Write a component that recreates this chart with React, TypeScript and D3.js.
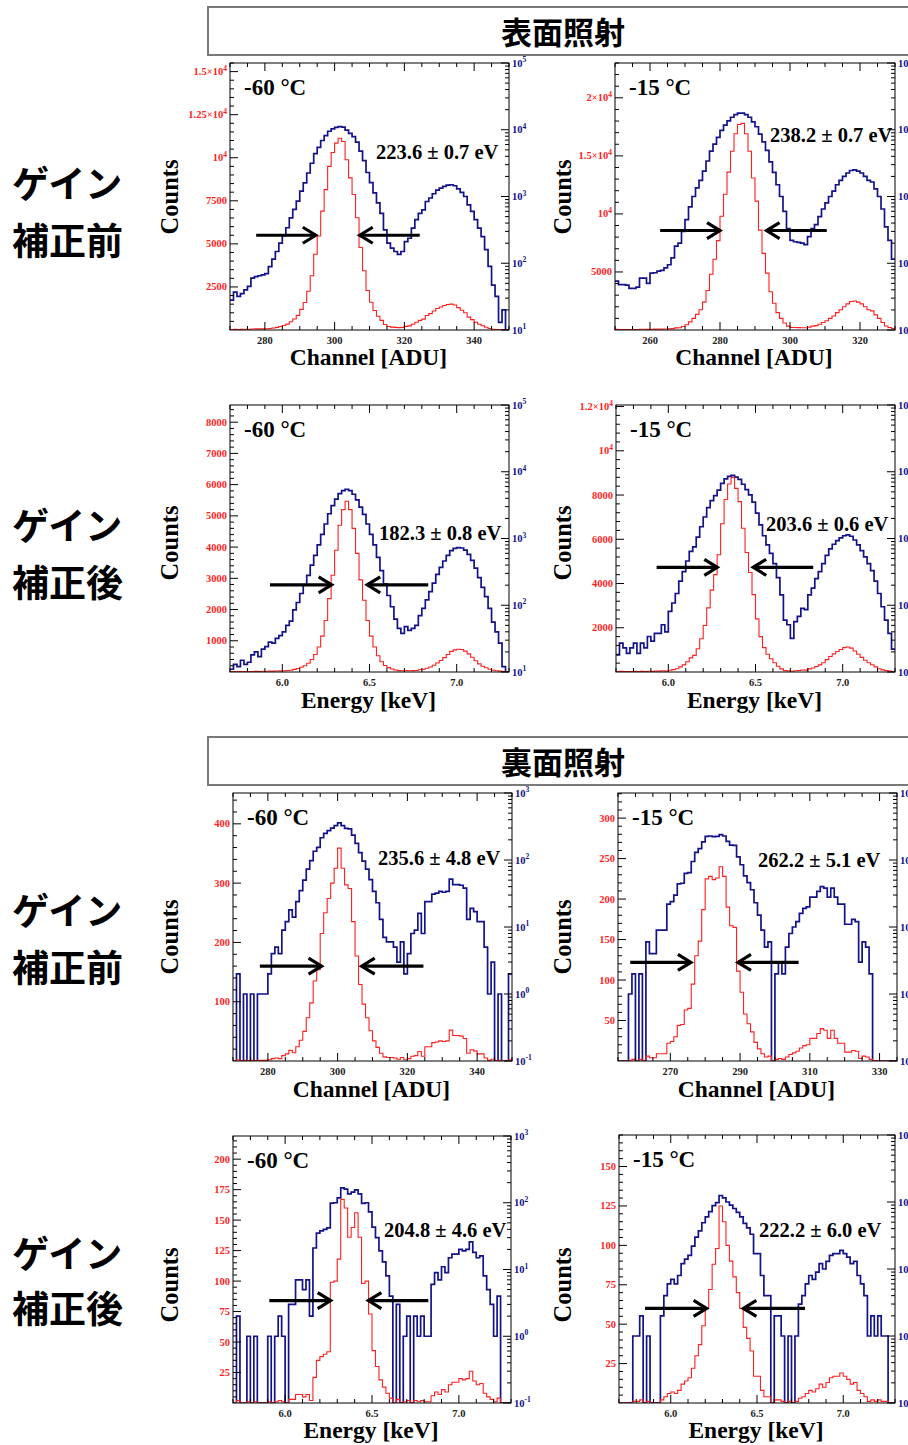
import React from 'react';
import * as d3 from 'd3';

// ---------------- DATA (counts per bin) ----------------
// Front side, before gain correction, -60 C : channel bins 270..349 (1 ADU)
const frontRawCold = [28,37,32,35,40,45,60,63,65,67,70,89,115,150,200,260,340,480,640,850,1200,1600,2250,3150,4400,5460,6900,8150,9500,10300,10850,11130,10940,9880,8830,7870,6520,4790,3440,2290,1615,1130,800,560,316,200,168,150,136,150,211,237,335,450,560,631,841,950,1100,1250,1334,1420,1480,1500,1450,1300,1150,1000,750,600,450,335,251,160,90,47,32,13,20,0];
// Front side, before gain correction, -15 C : channel bins 250..329
const frontRawWarm = [54,48,48,47,42,42,44,60,60,50,71,72,76,78,85,95,120,180,200,300,450,700,1000,1350,1750,2400,3400,4800,6100,7700,9800,11700,13600,15400,16900,17700,17800,16900,15400,13100,11100,8600,6600,4900,3300,2300,1500,1000,600,330,220,210,205,200,190,250,330,380,500,650,800,1000,1200,1500,1750,2000,2250,2450,2500,2400,2250,2000,1750,1650,1300,1000,650,350,220,115];
// Front side, after gain correction, -60 C : energy bins 5.70..7.28 keV (0.02 keV)
const frontCorCold = [11,13,12,15,13,14,18,20,17,22,24,28,27,32,35,40,50,58,85,110,150,200,280,400,560,800,1150,1650,2350,3100,3900,4700,5200,5470,5200,4600,3800,2950,2300,1650,1150,800,520,330,210,140,95,62,45,38,48,42,45,50,70,90,120,160,215,290,370,460,560,660,710,730,720,670,580,470,360,260,185,135,90,56,40,27,12,0];
// Front side, after gain correction, -15 C
const frontCorWarm = [18,27,23,19,23,27,19,27,23,34,29,38,38,51,40,81,108,150,230,320,460,640,750,1050,1500,2100,2900,3700,4400,5300,6700,7800,8500,8800,8300,7700,6500,5400,4500,3500,2400,1600,1100,800,600,420,260,143,60,51,32,57,68,90,86,143,181,250,320,420,560,700,820,930,1020,1100,1130,1080,950,800,660,530,420,330,230,150,95,60,38,22];
// Back side, before gain correction, -60 C : channel bins 270..349
const backRawCold = [0,2,0,1,0,1,0,1,1,1,2,4,5,4,9,12,18,14,24,35,50,73,98,135,154,215,250,274,300,325,359,325,297,291,235,177,129,96,73,51,34,23,13,7,6,6,5,3,6,2,4,8,9,16,8,24,24,31,32,34,33,34,52,43,43,42,38,13,19,17,12,12,5,1,3,0,1,0,0,2];
// Back side, before gain correction, -15 C : channel bins 255..334
const backRawWarm = [0,0,0,1,2,0,2,0,6,4,4,9,9,9,22,24,30,44,45,63,65,95,130,148,187,225,228,224,226,240,228,190,167,165,111,85,58,46,36,23,15,9,5,6,0,2,3,2,5,8,10,12,16,19,20,28,28,34,40,38,28,38,28,22,22,11,11,13,12,3,6,5,2,0,0,0,0,0,0,0];
// Back side, after gain correction, -60 C : energy bins 5.70..7.28 keV
const backCorCold = [0,2,0,0,1,0,1,0,0,0,1,0,1,2,1,0,3,3,7,7,5,7,2,21,35,38,40,42,99,100,118,167,160,136,144,156,136,98,100,73,43,30,19,13,8,4,0,3,0,1,2,0,2,1,2,1,1,6,9,7,11,9,15,17,17,20,19,20,26,18,15,16,8,5,3,1,4,0,0,0];
// Back side, after gain correction, -15 C
const backCorWarm = [0,0,0,0,1,1,2,0,1,0,0,0,2,4,6,7,6,8,12,14,16,22,30,37,49,60,72,88,98,125,115,100,90,80,70,60,48,41,33,17,17,8,4,4,0,2,2,1,0,1,0,1,3,4,6,8,7,9,12,10,13,16,17,17,19,17,15,12,13,8,6,4,1,2,1,2,1,1,0,0];

const temps = ['-60 °C', '-15 °C', '-60 °C', '-15 °C', '-60 °C', '-15 °C', '-60 °C', '-15 °C'];
const fwhmTexts = ['223.6 ± 0.7 eV', '238.2 ± 0.7 eV', '182.3 ± 0.8 eV', '203.6 ± 0.6 eV', '235.6 ± 4.8 eV', '262.2 ± 5.1 eV', '204.8 ± 4.6 eV', '222.2 ± 6.0 eV'];
// FWHM arrows: [half-max level, left tail, left tip, right tip, right tail] (data units)
const arrowsData = [
  [5500, 277.5, 294.6, 307.2, 324.4],
  [8570, 262.9, 280, 293.3, 310.5],
  [2790, 5.929, 6.283, 6.487, 6.837],
  [4730, 5.933, 6.281, 6.487, 6.831],
  [160, 277.7, 295.4, 306.9, 324.6],
  [121.7, 258.5, 275.9, 289.4, 306.8],
  [84, 5.909, 6.262, 6.479, 6.824],
  [60, 5.851, 6.208, 6.421, 6.778],
];
const headers = ['表面照射', '裏面照射'];
const rowLabels = [['ゲイン', '補正前'], ['ゲイン', '補正後'], ['ゲイン', '補正前'], ['ゲイン', '補正後']];
const xTitles = ['Channel [ADU]', 'Energy [keV]', 'Channel [ADU]', 'Energy [keV]'];

// ---------------- LAYOUT ----------------
const SERIF = "'Liberation Serif','Times New Roman',serif";
const CJK = "'Noto Sans CJK JP','Noto Sans CJK SC',sans-serif";
const RED = '#ff1f1f';
const BLUE = '#12128a';

type Panel = {
  counts: number[]; x0: number; bw: number; xDomain: [number, number];
  redMax: number; redStep: number; redMinor: number; logDomain: [number, number];
  xMajors: number[]; xMinor: number; energy: boolean;
  frame: { x: number; y: number; w: number; h: number };
  fwhmPos: [number, number];
};

const chanMajorsA = [280, 300, 320, 340];
const chanMajorsB = [260, 280, 300, 320];
const chanMajorsC = [270, 290, 310, 330];
const eMajors = [6.0, 6.5, 7.0];

const panels: Panel[] = [
  { counts: frontRawCold, x0: 270, bw: 1, xDomain: [270, 350], redMax: 15500, redStep: 2500, redMinor: 500, logDomain: [10, 1e5], xMajors: chanMajorsA, xMinor: 5, energy: false, frame: { x: 230, y: 63, w: 279, h: 267 }, fwhmPos: [146, 96] },
  { counts: frontRawWarm, x0: 250, bw: 1, xDomain: [250, 330], redMax: 23000, redStep: 5000, redMinor: 1000, logDomain: [10, 1e5], xMajors: chanMajorsB, xMinor: 5, energy: false, frame: { x: 615, y: 63, w: 280, h: 267 }, fwhmPos: [155, 79] },
  { counts: frontCorCold, x0: 5.7, bw: 0.02, xDomain: [5.7, 7.3], redMax: 8550, redStep: 1000, redMinor: 200, logDomain: [10, 1e5], xMajors: eMajors, xMinor: 0.1, energy: true, frame: { x: 230, y: 405, w: 279, h: 267 }, fwhmPos: [149, 135] },
  { counts: frontCorWarm, x0: 5.7, bw: 0.02, xDomain: [5.7, 7.3], redMax: 12070, redStep: 2000, redMinor: 400, logDomain: [10, 1e5], xMajors: eMajors, xMinor: 0.1, energy: true, frame: { x: 616, y: 405, w: 279, h: 267 }, fwhmPos: [150, 126] },
  { counts: backRawCold, x0: 270, bw: 1, xDomain: [270, 350], redMax: 452, redStep: 100, redMinor: 20, logDomain: [0.1, 1000], xMajors: chanMajorsA, xMinor: 5, energy: false, frame: { x: 233, y: 793, w: 279, h: 268 }, fwhmPos: [145, 72] },
  { counts: backRawWarm, x0: 255, bw: 1, xDomain: [255, 335], redMax: 331, redStep: 50, redMinor: 10, logDomain: [0.1, 1000], xMajors: chanMajorsC, xMinor: 5, energy: false, frame: { x: 618, y: 793, w: 279, h: 268 }, fwhmPos: [140, 74] },
  { counts: backCorCold, x0: 5.7, bw: 0.02, xDomain: [5.7, 7.3], redMax: 219, redStep: 25, redMinor: 5, logDomain: [0.1, 1000], xMajors: eMajors, xMinor: 0.1, energy: true, frame: { x: 233, y: 1136, w: 278, h: 267 }, fwhmPos: [151, 101] },
  { counts: backCorWarm, x0: 5.7, bw: 0.02, xDomain: [5.7, 7.3], redMax: 170, redStep: 25, redMinor: 5, logDomain: [0.1, 1000], xMajors: eMajors, xMinor: 0.1, energy: true, frame: { x: 619, y: 1135, w: 276, h: 268 }, fwhmPos: [140, 102] },
];

const rowCountsY = [197, 543, 937, 1285];
const colCountsX = [170, 563];
const rowXTitleY = [357, 700, 1089, 1430];
const rowLabelY = [[183, 240], [525, 582], [910, 967], [1253, 1308]];
const headerY = [7, 737];

function sup(base: string, exp: string) {
  return (
    <>
      {base}
      <tspan dy={-4.5} fontSize="0.72em">{exp}</tspan>
    </>
  );
}

function redLabel(v: number) {
  if (v >= 10000) {
    const m = +(v / 10000).toFixed(3);
    return m === 1 ? sup('10', '4') : sup(`${m}×10`, '4');
  }
  return String(v);
}

function PanelView({ p, k }: { p: Panel; k: number }) {
  const { x, y, w, h } = p.frame;
  const bottom = y + h;
  const xs = d3.scaleLinear().domain(p.xDomain).range([x, x + w]);
  const yr = d3.scaleLinear().domain([0, p.redMax]).range([bottom, y]);
  const yb = d3.scaleLog().domain(p.logDomain).range([bottom, y]);
  const pts: [number, number][] = p.counts.map((c, i) => [p.x0 + i * p.bw, c]);
  pts.push([p.x0 + p.counts.length * p.bw, p.counts[p.counts.length - 1]]);
  const redLine = d3.line<[number, number]>().x(d => xs(d[0])).y(d => yr(d[1])).curve(d3.curveStepAfter);
  const blueLine = d3.line<[number, number]>()
    .x(d => xs(d[0]))
    .y(d => (d[1] < p.logDomain[0] ? bottom : yb(Math.min(d[1], p.logDomain[1]))))
    .curve(d3.curveStepAfter);

  const eps = 1e-9;
  const xMinors = d3.range(Math.ceil(p.xDomain[0] / p.xMinor - eps) * p.xMinor, p.xDomain[1] + eps, p.xMinor)
    .filter(v => !p.xMajors.some(m => Math.abs(m - v) < 1e-6));
  const redMajors = d3.range(p.redStep, p.redMax + eps, p.redStep);
  const redMinors = d3.range(p.redMinor, p.redMax + eps, p.redMinor)
    .filter(v => Math.abs(v / p.redStep - Math.round(v / p.redStep)) > 1e-6);
  const [lo, hi] = p.logDomain;
  const decades: number[] = [];
  for (let e = Math.round(Math.log10(lo)); e <= Math.round(Math.log10(hi)); e++) decades.push(e);
  const logMinors: number[] = [];
  decades.slice(0, -1).forEach(e => { for (let m = 2; m <= 9; m++) logMinors.push(m * Math.pow(10, e)); });

  const [ay, lt, lh, rh, rt] = arrowsData[k];
  const arrowY = yr(ay);
  const ML = 8, MN = 4;
  const fmt = p.energy ? d3.format('.1f') : d3.format('d');

  return (
    <g>
      <defs>
        <clipPath id={`clip${k}`}>
          <rect x={x} y={y} width={w} height={h} />
        </clipPath>
      </defs>
      <g clipPath={`url(#clip${k})`}>
        <path d={blueLine(pts) || ''} fill="none" stroke={BLUE} strokeWidth={1.7} />
        <path d={redLine(pts) || ''} fill="none" stroke={RED} strokeWidth={1.1} />
      </g>
      <rect x={x} y={y} width={w} height={h} fill="none" stroke="#000" strokeWidth={1} />
      {/* x ticks */}
      <g stroke="#000" strokeWidth={1}>
        {p.xMajors.map(v => (
          <g key={`xm${v}`}>
            <line x1={xs(v)} x2={xs(v)} y1={bottom} y2={bottom - ML} />
            <line x1={xs(v)} x2={xs(v)} y1={y} y2={y + ML} />
          </g>
        ))}
        {xMinors.map(v => (
          <g key={`xn${v}`}>
            <line x1={xs(v)} x2={xs(v)} y1={bottom} y2={bottom - MN} />
            <line x1={xs(v)} x2={xs(v)} y1={y} y2={y + MN} />
          </g>
        ))}
        {redMajors.map(v => <line key={`rm${v}`} x1={x} x2={x + ML} y1={yr(v)} y2={yr(v)} />)}
        {redMinors.map(v => <line key={`rn${v}`} x1={x} x2={x + MN} y1={yr(v)} y2={yr(v)} />)}
        {decades.map(e => <line key={`bm${e}`} x1={x + w} x2={x + w - ML} y1={yb(Math.pow(10, e))} y2={yb(Math.pow(10, e))} />)}
        {logMinors.map(v => <line key={`bn${v}`} x1={x + w} x2={x + w - MN} y1={yb(v)} y2={yb(v)} />)}
      </g>
      {/* tick labels */}
      <g fontFamily={SERIF} fontWeight="bold" fontSize={10.5}>
        {p.xMajors.map(v => (
          <text key={`xl${v}`} x={xs(v)} y={bottom + 14} textAnchor="middle" fill="#222">{fmt(v)}</text>
        ))}
        {redMajors.map(v => (
          <text key={`rl${v}`} x={x - 3} y={yr(v) + 3.5} textAnchor="end" fill={RED}>{redLabel(v)}</text>
        ))}
        {decades.map(e => (
          <text key={`bl${e}`} x={x + w + 3} y={yb(Math.pow(10, e)) + 3.5} textAnchor="start" fill={BLUE}>{sup('10', String(e))}</text>
        ))}
      </g>
      {/* annotations */}
      <text x={x + 14} y={y + 32} fontFamily={SERIF} fontWeight="bold" fontSize={23} fill="#000">{temps[k]}</text>
      <text x={x + p.fwhmPos[0]} y={y + p.fwhmPos[1]} fontFamily={SERIF} fontWeight="bold" fontSize={20.5} fill="#000">{fwhmTexts[k]}</text>
      <g stroke="#000" strokeWidth={3.2} fill="none" strokeLinecap="butt">
        <line x1={xs(lt)} x2={xs(lh)} y1={arrowY} y2={arrowY} />
        <polyline points={`${xs(lh) - 13},${arrowY - 8} ${xs(lh)},${arrowY} ${xs(lh) - 13},${arrowY + 8}`} strokeLinejoin="miter" />
        <line x1={xs(rt)} x2={xs(rh)} y1={arrowY} y2={arrowY} />
        <polyline points={`${xs(rh) + 13},${arrowY - 8} ${xs(rh)},${arrowY} ${xs(rh) + 13},${arrowY + 8}`} strokeLinejoin="miter" />
      </g>
    </g>
  );
}

export default function App() {
  return (
    <svg width={908} height={1445} viewBox="0 0 908 1445" style={{ position: 'absolute', left: 0, top: 0, background: '#fff' }}>
      <rect x={0} y={0} width={908} height={1445} fill="#fff" />
      {headers.map((t, i) => (
        <g key={t}>
          <rect x={208} y={headerY[i]} width={720} height={48} fill="#fff" stroke="#7a7a7a" strokeWidth={2} />
          <text x={563} y={headerY[i] + 23} textAnchor="middle" dominantBaseline="central" fontFamily={CJK} fontWeight="bold" fontSize={31} fill="#000">{t}</text>
        </g>
      ))}
      {rowLabels.map((pair, r) => (
        <g key={`rl${r}`} fontFamily={CJK} fontWeight="bold" fontSize={37} fill="#000">
          <text x={12} y={rowLabelY[r][0] - 1} dominantBaseline="central">{pair[0]}</text>
          <text x={12} y={rowLabelY[r][1] - 1} dominantBaseline="central">{pair[1]}</text>
        </g>
      ))}
      {panels.map((p, k) => <PanelView key={k} p={p} k={k} />)}
      {panels.map((p, k) => {
        const r = Math.floor(k / 2), c = k % 2;
        return (
          <g key={`t${k}`} fontFamily={SERIF} fontWeight="bold" fill="#000">
            <text x={p.frame.x + p.frame.w / 2 - 1} y={rowXTitleY[r] + 8} textAnchor="middle" fontSize={23.5}>{xTitles[r]}</text>
            <text transform={`translate(${colCountsX[c] + 8},${rowCountsY[r]}) rotate(-90)`} textAnchor="middle" fontSize={24.5}>Counts</text>
          </g>
        );
      })}
    </svg>
  );
}
